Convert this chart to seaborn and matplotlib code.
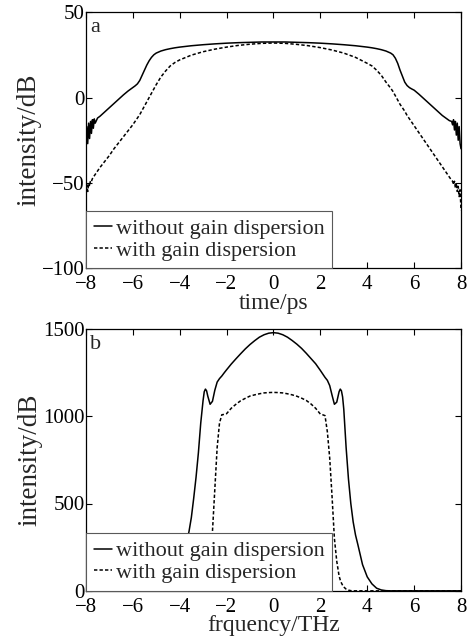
import pandas as pd
import seaborn as sns
import matplotlib
matplotlib.use("Agg")
import matplotlib.pyplot as plt

# panel a : time domain
time_ps = [-8.0, -7.96, -7.92, -7.88, -7.84, -7.8, -7.76, -7.72, -7.68, -7.64, -7.6,
           -7.5, -7.4, -7.2, -7.0, -6.8, -6.6, -6.4, -6.2, -6.0,
           -5.9, -5.8, -5.7, -5.6, -5.5, -5.4, -5.3, -5.2, -5.1,
           -5.0, -4.8, -4.6, -4.4, -4.2, -4.0,
           -3.5, -3.0, -2.5, -2.0, -1.5, -1.0, -0.5, 0.0,
           0.5, 1.0, 1.5, 2.0, 2.5, 3.0, 3.5,
           4.0, 4.2, 4.4, 4.6, 4.8, 5.0,
           5.1, 5.2, 5.3, 5.4, 5.5, 5.6, 5.7, 5.8, 5.9,
           6.0, 6.2, 6.4, 6.6, 6.8, 7.0, 7.2, 7.4, 7.5,
           7.6, 7.64, 7.68, 7.72, 7.76, 7.8, 7.84, 7.88, 7.92, 7.96, 8.0]

time_no_gd = [-32, -17, -27, -15, -24, -14, -21, -13, -18, -12.5, -15,
              -12, -11, -8.5, -6, -3.5, -1, 1.5, 3.8, 5.8,
              6.8, 8, 10, 13, 16, 19, 21.5, 23.5, 25,
              26, 27.2, 28, 28.6, 29.1, 29.5,
              30.3, 30.9, 31.4, 31.8, 32.1, 32.3, 32.5, 32.5,
              32.5, 32.3, 32.1, 31.8, 31.4, 30.9, 30.3,
              29.5, 29.1, 28.6, 28, 27.2, 26,
              25, 23, 20, 16, 12.5, 9, 7, 5.8, 5,
              4.3, 2, -0.5, -3, -5.5, -8, -10.5, -12.5, -13.5,
              -14, -16, -13, -19, -14, -22, -15, -25, -17, -27, -30]

time_gd = [-58, -51, -55, -50, -52, -48.5, -49, -47.5, -46.5, -45.8, -45,
           -43, -41, -37.5, -34, -30, -26.5, -23, -19.5, -16,
           -14, -12, -10, -7.5, -5, -2.5, 0, 2.5, 5,
           7.5, 12, 15.5, 18.5, 20.5, 22,
           24.8, 26.8, 28.3, 29.5, 30.5, 31.2, 31.7, 31.9,
           31.7, 31.1, 30.3, 29.2, 27.8, 26, 23.5,
           20, 18.5, 16, 13, 9, 5.5,
           3.5, 1, -1.5, -4, -6, -8, -10.5, -12.5, -14.5,
           -16.5, -20.5, -24.5, -28.5, -32.5, -36.5, -40.5, -44.5, -46.5,
           -48.5, -49, -51, -49, -53, -50, -55, -52, -58, -54, -66]

# panel b : spectrum
freq_thz = [-8, -6, -5, -4.8, -4.6, -4.4, -4.2, -4.0, -3.8, -3.6,
            -3.5, -3.4, -3.3, -3.2, -3.1, -3.0, -2.95, -2.9, -2.85, -2.8,
            -2.7, -2.6, -2.5, -2.4, -2.3, -2.2, -2.1, -2.0,
            -1.8, -1.6, -1.4, -1.2, -1.0, -0.8, -0.6, -0.4, -0.2, 0,
            0.2, 0.4, 0.6, 0.8, 1.0, 1.2, 1.4, 1.6, 1.8,
            2.0, 2.1, 2.2, 2.3, 2.4, 2.5, 2.6, 2.7,
            2.8, 2.85, 2.9, 2.95, 3.0, 3.1, 3.2, 3.3, 3.4, 3.5,
            3.6, 3.8, 4.0, 4.2, 4.4, 4.6, 4.8, 5, 6, 8]

spec_no_gd = [0, 0, 0, 5, 15, 35, 70, 130, 220, 340,
              420, 530, 650, 790, 960, 1090, 1140, 1155, 1145, 1115,
              1068, 1085, 1148, 1195, 1215, 1230, 1248, 1265,
              1298, 1328, 1357, 1385, 1410, 1432, 1452, 1466, 1475, 1478,
              1475, 1466, 1452, 1433, 1412, 1388, 1360, 1330, 1300,
              1262, 1242, 1222, 1205, 1175, 1120, 1068, 1080,
              1140, 1155, 1145, 1110, 1040, 820, 640, 500, 395, 320,
              265, 150, 80, 40, 15, 5, 1, 0, 0, 0]

spec_gd = [0, 0, 0, 0, 0, 0, 0, 0, 0, 0,
           0, 0, 1, 3, 8, 18, 28, 42, 62, 95,
           190, 340, 580, 820, 960, 1008, 1010, 1014,
           1045, 1068, 1088, 1102, 1115, 1122, 1128, 1133, 1135, 1136,
           1135, 1133, 1128, 1122, 1114, 1103, 1090, 1070, 1045,
           1012, 1008, 1003, 910, 760, 540, 300, 170,
           85, 62, 45, 32, 22, 10, 4, 1, 0, 0,
           0, 0, 0, 0, 0, 0, 0, 0, 0, 0]

labels = ["without gain dispersion", "with gain dispersion"]

sns.set_style("ticks")
plt.rcParams.update({
    "font.family": ["Liberation Serif", "DejaVu Serif"],
    "xtick.direction": "in", "ytick.direction": "in",
    "xtick.top": True, "ytick.right": True,
    "xtick.major.size": 4, "ytick.major.size": 4,
    "xtick.color": "black", "ytick.color": "black",
    "axes.edgecolor": "black", "axes.linewidth": 0.9,
    "xtick.labelsize": 15, "ytick.labelsize": 15,
})

fig = plt.figure(figsize=(4.69, 6.36), dpi=100)
ax1 = fig.add_axes([0.183, 0.578, 0.800, 0.403])
ax2 = fig.add_axes([0.183, 0.071, 0.800, 0.412])

dash = (0, (2.2, 1.4))

sns.lineplot(x=time_ps, y=time_no_gd, ax=ax1, color="black", lw=1.1,
             estimator=None, sort=False, label=labels[0])
sns.lineplot(x=time_ps, y=time_gd, ax=ax1, color="black", lw=1.1,
             estimator=None, sort=False, label=labels[1], linestyle=dash)

sns.lineplot(x=freq_thz, y=spec_no_gd, ax=ax2, color="black", lw=1.1,
             estimator=None, sort=False, label=labels[0])
sns.lineplot(x=freq_thz, y=spec_gd, ax=ax2, color="black", lw=1.1,
             estimator=None, sort=False, label=labels[1], linestyle=dash)

ax1.set_xlim(-8, 8)
ax1.set_ylim(-100, 50)
ax1.set_yticks([-100, -50, 0, 50])
ax2.set_xlim(-8, 8)
ax2.set_ylim(0, 1500)
ax2.set_yticks([0, 500, 1000, 1500])

for ax, xl, tag in [(ax1, "time/ps", "a"), (ax2, "frquency/THz", "b")]:
    ax.set_xticks(range(-8, 9, 2))
    ax.tick_params(axis="y", pad=1)
    ax.tick_params(axis="x", pad=5)
    ax.set_xlabel(xl, fontsize=17, labelpad=-1)
    ax.set_ylabel("intensity/dB", fontsize=19.5, labelpad=0)
    ax.text(0.012, 0.975, tag, transform=ax.transAxes, ha="left", va="top",
            fontsize=16)
    leg = ax.legend(loc="lower left", bbox_to_anchor=(0, 0), borderaxespad=0,
                    fontsize=16, handlelength=0.85, handletextpad=0.15,
                    labelspacing=0.05, borderpad=0.35, fancybox=False,
                    framealpha=1, edgecolor="0.35")
    leg.get_frame().set_linewidth(0.8)

plt.savefig("out.png", dpi=100)
